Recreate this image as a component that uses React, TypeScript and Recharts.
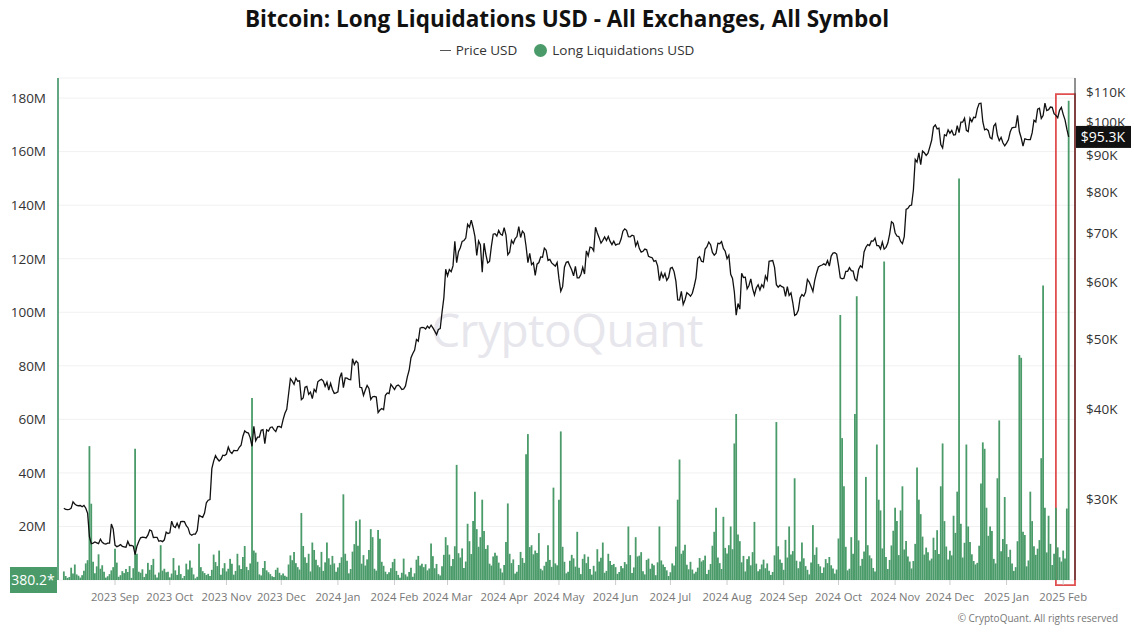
import React from "react";
import {
  ComposedChart,
  Bar,
  Line,
  XAxis,
  YAxis,
  CartesianGrid,
  ReferenceLine,
  ReferenceArea,
} from "recharts";

// daily close (USD) and long liquidations (million USD)
const p2023Aug = [29170, 29050, 29040, 29050, 29180, 29770, 29560, 29430, 29400, 29420, 29300, 29430, 29170, 28700, 26630, 26050, 26100, 26190, 26120, 26050, 26430, 26160, 26060, 26010, 26090, 26100, 27730, 27300, 25930];
const l2023Aug = [3.2, 1.5, 0.8, 1.1, 4.6, 2.4, 5.8, 2.1, 1.6, 0.9, 1.8, 3.5, 6.2, 7.4, 50, 28.5, 6.8, 2.5, 5.1, 9.6, 4.2, 5.5, 3.1, 0.9, 1.4, 2.2, 3.6, 4.8, 11.7];
const p2023Sep = [25800, 25870, 25970, 25830, 25790, 25750, 26240, 25900, 25900, 25840, 25160, 25840, 26230, 26540, 26600, 26570, 26530, 26770, 27210, 27130, 26570, 26580, 26580, 26250, 26300, 26220, 26370, 27020, 26910, 26970];
const l2023Sep = [6.5, 1.2, 1.8, 3.3, 2.6, 4.1, 3.0, 5.2, 0.8, 4.4, 49, 9.8, 3.1, 2.7, 4.0, 1.1, 2.3, 6.4, 3.8, 5.6, 7.9, 2.0, 0.9, 2.8, 13, 3.5, 4.2, 2.9, 3.1, 1.0];
const p2023Oct = [27990, 27530, 27430, 27800, 27410, 27950, 27970, 27940, 27590, 27390, 26870, 26760, 26860, 26860, 27160, 28520, 28420, 28330, 28720, 29680, 29920, 29990, 33090, 33900, 34500, 34150, 33910, 34090, 34540, 34500, 34670];
const l2023Oct = [2.4, 8.2, 3.6, 1.9, 5.4, 2.2, 0.7, 1.5, 6.1, 3.9, 7.3, 4.6, 2.1, 0.6, 1.2, 13.5, 4.8, 3.3, 2.6, 1.9, 2.3, 1.5, 3.8, 9.5, 6.7, 5.2, 11.0, 2.0, 4.4, 6.3, 3.2];
const p2023Nov = [35440, 34940, 34730, 35080, 35050, 35040, 35420, 35650, 36700, 37320, 37140, 37060, 36500, 35540, 37880, 36160, 36590, 36590, 37390, 37480, 35830, 37450, 37310, 37730, 37800, 37480, 37240, 37830, 37850, 37720];
const l2023Nov = [4.2, 7.9, 6.1, 2.0, 3.4, 9.8, 5.5, 4.1, 8.6, 12.7, 4.9, 3.7, 6.2, 68, 11, 10.2, 6.8, 2.1, 1.7, 4.5, 7.1, 3.6, 2.9, 2.2, 1.4, 1.1, 3.8, 4.6, 2.7, 1.8];
const p2023Dec = [38690, 39480, 39980, 41980, 44080, 43750, 43290, 44170, 43730, 43790, 41240, 41450, 42890, 43020, 41930, 42240, 41360, 42620, 42270, 43650, 43860, 43990, 43740, 43010, 43600, 42520, 43440, 42590, 42070, 42140, 42280];
const l2023Dec = [2.4, 1.6, 1.2, 5.8, 9.2, 7.4, 10.5, 6.3, 4.8, 3.9, 25, 12.7, 8.5, 6.4, 9.8, 3.2, 14, 11.2, 7.6, 5.5, 4.8, 10.5, 3.4, 6.6, 14, 8.1, 5.7, 9.0, 6.2, 3.1, 4.7];
const p2024Jan = [44180, 44940, 42850, 44180, 44160, 43970, 43930, 46970, 46110, 46630, 46340, 42890, 42840, 41800, 42510, 43150, 42740, 41260, 41620, 41660, 41580, 39570, 39890, 40080, 39930, 41820, 42120, 42030, 43300, 42950, 42580];
const l2024Jan = [6.4, 8.5, 32, 9.8, 7.2, 2.5, 4.1, 10.6, 13.4, 22, 12.8, 22.6, 6.1, 9.3, 5.4, 7.7, 11.2, 19, 16, 4.2, 3.5, 18.7, 15.4, 6.8, 5.3, 3.1, 2.2, 2.9, 4.4, 6.7, 7.9];
const p2024Feb = [43080, 43190, 42990, 42580, 42660, 43080, 44340, 45290, 47130, 47770, 48290, 49960, 49700, 51800, 51930, 51890, 51650, 52130, 51780, 52280, 51840, 51300, 50730, 51570, 51730, 54480, 57090, 62500, 61200];
const l2024Feb = [3.4, 1.9, 0.8, 2.7, 8.0, 2.1, 1.3, 3.0, 4.6, 1.2, 2.5, 7.6, 9.0, 5.4, 6.1, 4.8, 5.9, 3.6, 4.3, 13.6, 8.9, 4.4, 6.0, 2.2, 1.7, 5.1, 9.4, 16, 13];
const p2024Mar = [62440, 62030, 63170, 68330, 63800, 66110, 66930, 68300, 68500, 69020, 72120, 71480, 73080, 71400, 69400, 65300, 68390, 67550, 61910, 67910, 65490, 63780, 64060, 67210, 69880, 69990, 69450, 70740, 69900, 69650, 71330];
const l2024Mar = [9.5, 5.2, 7.8, 12.6, 43, 10, 8.4, 11.8, 4.5, 6.9, 21, 14.5, 9.7, 22, 33, 19, 12.4, 16, 30, 18.3, 11.6, 13, 6.1, 5.4, 8.8, 10.2, 9.1, 6.5, 4.3, 2.8, 5.6];
const p2024Apr = [69700, 65450, 65980, 68500, 67840, 68900, 69360, 71620, 69150, 70590, 70060, 67200, 63820, 65740, 63430, 63810, 61280, 63510, 63840, 64990, 64940, 66840, 66410, 64280, 64500, 63770, 63460, 63120, 63840, 60640];
const l2024Apr = [14.2, 28.6, 9.8, 6.3, 7.7, 2.4, 3.1, 5.6, 10.5, 8.2, 6.4, 47, 54.5, 12.3, 13, 9.6, 11, 10.1, 17.5, 4.2, 3.6, 5.3, 6.8, 13, 7.5, 4.9, 34.5, 6.2, 5.5, 30];
const p2024May = [58250, 59120, 62890, 63890, 64030, 63160, 62330, 61190, 63050, 60790, 60790, 61450, 62900, 61550, 66270, 65230, 67050, 66940, 66280, 71450, 70140, 69120, 67930, 68530, 69290, 68500, 69390, 68300, 67590, 68360, 67490];
const l2024May = [55.5, 12.4, 6.8, 2.5, 3.1, 7.2, 9.4, 8.1, 5.0, 18, 4.6, 2.2, 7.9, 9.6, 6.3, 8.7, 4.1, 2.0, 5.3, 3.2, 11.5, 6.9, 8.3, 14, 2.7, 3.4, 9.8, 7.1, 5.6, 6.0, 4.8];
const p2024Jun = [67700, 67750, 68800, 70560, 71080, 70760, 69340, 69300, 69650, 69490, 67320, 68240, 66750, 66010, 66190, 66640, 66490, 65140, 64960, 64830, 64100, 64260, 63170, 60280, 61800, 60860, 61670, 60320, 60890, 62680];
const l2024Jun = [2.3, 3.0, 5.2, 4.4, 6.7, 5.9, 20, 9.3, 2.6, 4.7, 16, 8.8, 9.1, 10.4, 3.3, 2.1, 7.5, 8.0, 4.2, 6.1, 5.5, 1.8, 6.6, 20, 7.3, 5.8, 4.9, 3.6, 1.5, 2.9];
const p2024Jul = [62850, 62030, 60170, 56660, 56640, 58230, 55850, 56700, 58000, 57720, 57340, 57890, 59200, 60800, 64700, 65060, 64090, 63970, 66670, 67150, 68160, 67580, 65930, 65370, 65800, 67910, 67810, 68250, 66780, 66190, 64620];
const l2024Jul = [6.2, 5.4, 12.5, 30, 45, 9.8, 11, 13.2, 5.7, 4.0, 6.8, 3.9, 2.4, 3.1, 4.6, 8.2, 6.9, 7.4, 9.1, 2.2, 3.8, 6.0, 12.8, 18, 27, 8.4, 6.3, 4.1, 23.6, 12, 9.9];
const p2024Aug = [65350, 61500, 60680, 58120, 53990, 56030, 55030, 61710, 60880, 60940, 58710, 59350, 60610, 58740, 57560, 58870, 59480, 58480, 59490, 59010, 61160, 60380, 64090, 64180, 64260, 62880, 59500, 59030, 59390, 59120, 58970];
const l2024Aug = [13, 20, 11.5, 51, 62, 17, 14.5, 6.6, 9.0, 3.2, 7.8, 8.9, 5.5, 10.4, 21.7, 6.1, 3.3, 4.0, 5.8, 7.6, 4.4, 6.2, 3.5, 1.9, 3.0, 9.2, 59, 12.6, 7.7, 6.4, 3.8];
const p2024Sep = [57330, 59130, 57480, 57970, 56160, 53950, 54140, 54840, 57020, 57650, 57340, 58130, 60500, 59990, 59130, 58210, 60310, 61760, 62950, 63200, 63350, 63580, 63340, 64260, 63140, 65180, 65790, 65890, 65600, 63330];
const l2024Sep = [15, 8.4, 20, 9.5, 10.8, 38, 7.2, 4.4, 6.9, 14, 8.1, 5.2, 3.8, 2.1, 6.5, 20.5, 9.4, 12.2, 6.0, 5.1, 2.6, 4.7, 7.8, 6.3, 8.6, 5.5, 4.3, 2.4, 3.9, 15.5];
const p2024Oct = [60810, 60630, 60750, 62070, 62090, 62820, 62220, 62130, 60580, 60270, 62440, 63190, 62850, 66050, 67040, 67610, 67400, 68390, 68360, 69000, 67370, 67370, 66680, 68160, 66640, 67010, 67940, 69910, 72720, 72340, 70220];
const l2024Oct = [99, 53, 35, 12.4, 3.6, 4.2, 16, 9.8, 62, 106, 14.8, 5.3, 7.9, 10.6, 38.5, 13, 9.2, 8.1, 4.5, 3.2, 50.6, 30, 26, 11.8, 119, 8.6, 4.1, 7.5, 12.9, 18.4, 27];
const p2024Nov = [69480, 69360, 68300, 67810, 69360, 75640, 75900, 76540, 76680, 80470, 88700, 87960, 90580, 87250, 91070, 90600, 89850, 90460, 92310, 94290, 98320, 98990, 97780, 98010, 93010, 91990, 95960, 95640, 97460, 96450];
const l2024Nov = [22, 9.3, 26, 35, 11.4, 14.6, 8.8, 6.9, 4.3, 7.1, 13.5, 42, 30, 24.6, 16.2, 9.5, 12.1, 10.4, 7.3, 8.0, 15.8, 11.2, 18.6, 9.7, 35, 51, 22, 12.5, 7.7, 10.9];
const p2024Dec = [97280, 95860, 96000, 98770, 96590, 99920, 99920, 101170, 97320, 96930, 101170, 100040, 101460, 101370, 104300, 106030, 106140, 100040, 97490, 97750, 97220, 95100, 94690, 98680, 99430, 95790, 94160, 95160, 93530, 92640, 93430];
const l2024Dec = [9.2, 24, 17.6, 33, 150, 21, 8.4, 13.9, 50.6, 20, 14.2, 9.6, 7.1, 5.8, 6.4, 12.8, 36, 51.4, 49, 27, 16.5, 20, 18.3, 7.9, 6.2, 38, 59.6, 10.7, 15.3, 31, 13.4];
const p2025Jan = [94420, 96890, 98110, 98240, 98310, 102080, 96950, 95040, 92550, 94730, 94560, 94490, 94520, 96530, 100500, 99990, 104080, 104410, 101090, 102020, 106150, 103650, 103960, 104820, 104710, 102620, 102080, 101330, 103730, 104730, 102410];
const l2025Jan = [8.6, 11.3, 6.2, 3.4, 4.8, 14.5, 84, 83, 18, 16.8, 5.1, 7.3, 33, 22, 12.6, 9.4, 11.7, 14.9, 45.5, 110, 27, 10.3, 24, 13.5, 5.6, 9.8, 27, 12.2, 8.5, 6.9, 11];
const p2025Feb = [100650, 97690, 95300];
const l2025Feb = [8, 26.7, 179];

const monthLabels = ["2023 Sep", "2023 Oct", "2023 Nov", "2023 Dec", "2024 Jan", "2024 Feb", "2024 Mar", "2024 Apr", "2024 May", "2024 Jun", "2024 Jul", "2024 Aug", "2024 Sep", "2024 Oct", "2024 Nov", "2024 Dec", "2025 Jan", "2025 Feb"];
const priceTicks = [30000, 40000, 50000, 60000, 70000, 80000, 90000, 100000, 110000];
const liqTicks = [20, 40, 60, 80, 100, 120, 140, 160, 180];
const LIVE_LIQ_USD = 380.2;

const prices = [
  ...p2023Aug, ...p2023Sep, ...p2023Oct, ...p2023Nov, ...p2023Dec,
  ...p2024Jan, ...p2024Feb, ...p2024Mar, ...p2024Apr, ...p2024May, ...p2024Jun,
  ...p2024Jul, ...p2024Aug, ...p2024Sep, ...p2024Oct, ...p2024Nov, ...p2024Dec,
  ...p2025Jan, ...p2025Feb,
];
const liqs = [
  ...l2023Aug, ...l2023Sep, ...l2023Oct, ...l2023Nov, ...l2023Dec,
  ...l2024Jan, ...l2024Feb, ...l2024Mar, ...l2024Apr, ...l2024May, ...l2024Jun,
  ...l2024Jul, ...l2024Aug, ...l2024Sep, ...l2024Oct, ...l2024Nov, ...l2024Dec,
  ...l2025Jan, ...l2025Feb,
];

const DAY = 86400000;
const FIRST_CLOSE = Date.UTC(2023, 7, 4); // close of Aug 3
const X_START = Date.UTC(2023, 6, 31, 19);
const X_END = Date.UTC(2025, 1, 7, 11);
const BOX_START = Date.UTC(2025, 0, 28);

const data = prices.map((p, i) => ({ t: FIRST_CLOSE + i * DAY, price: p, liq: liqs[i] }));

const MONTHS = ["Jan", "Feb", "Mar", "Apr", "May", "Jun", "Jul", "Aug", "Sep", "Oct", "Nov", "Dec"];
const monthTicks = monthLabels.map((l) => {
  const [y, m] = l.split(" ");
  return Date.UTC(Number(y), MONTHS.indexOf(m), 1);
});
const labelOf = new Map(monthTicks.map((t, i) => [t, monthLabels[i]]));

const lastPrice = prices[prices.length - 1];
const FONT = "'Open Sans', 'Noto Sans', sans-serif";
const GREEN = "#4a9b69";

function PriceTag({ viewBox }: any) {
  const { x, y, width } = viewBox;
  const left = x + width + 1;
  return (
    <g>
      <rect x={left} y={y - 11} width={55} height={22} fill="#111" />
      <text x={left + 27} y={y} dy="0.36em" textAnchor="middle" fill="#fff" fontSize={14} fontFamily={FONT}>
        ${(lastPrice / 1000).toFixed(1)}K
      </text>
    </g>
  );
}

function LiveTag({ viewBox }: any) {
  const { x, y } = viewBox;
  return (
    <g>
      <rect x={x - 48} y={y - 13} width={47} height={26} fill={GREEN} />
      <text x={x - 25} y={y} dy="0.36em" textAnchor="middle" fill="#fff" fontSize={14} fontFamily={FONT}>
        {LIVE_LIQ_USD}*
      </text>
    </g>
  );
}

export default function App() {
  return (
    <div style={{ position: "absolute", left: 0, top: 0, width: 1134, height: 632, background: "#fff", overflow: "hidden", fontFamily: FONT }}>
      <div style={{ position: "absolute", top: 3, left: 0, width: 1134, textAlign: "center", fontFamily: FONT, fontWeight: 700, fontSize: 22.5, color: "#111" }}>
        Bitcoin: Long Liquidations USD - All Exchanges, All Symbol
      </div>
      <div style={{ position: "absolute", top: 41, left: 0, width: 1134, display: "flex", justifyContent: "center", alignItems: "center", gap: 17, fontSize: 13.5, color: "#333" }}>
        <span style={{ display: "flex", alignItems: "center", gap: 5 }}>
          <span style={{ width: 11, height: 1, background: "#555", display: "inline-block" }} />
          Price USD
        </span>
        <span style={{ display: "flex", alignItems: "center", gap: 5 }}>
          <span style={{ width: 13, height: 13, borderRadius: "50%", background: GREEN, display: "inline-block" }} />
          Long Liquidations USD
        </span>
      </div>
      <div style={{ position: "absolute", top: 298, left: 0, width: 1134, textAlign: "center", fontSize: 46, color: "#e6e6ec", letterSpacing: -0.5 }}>
        CryptoQuant
      </div>
      <div style={{ position: "absolute", left: 0, top: 0 }}>
        <ComposedChart width={1134} height={632} data={data} margin={{ top: 78, right: 0, bottom: 22, left: 0 }}>
          <CartesianGrid yAxisId="liq" vertical={false} stroke="#f1f1f1" />
          <XAxis
            dataKey="t"
            type="number"
            domain={[X_START, X_END]}
            allowDataOverflow
            ticks={monthTicks}
            interval={0}
            tickFormatter={(v) => labelOf.get(v) ?? ""}
            axisLine={false}
            tickLine={{ stroke: "#ccc" }}
            tickSize={5}
            tickMargin={8}
            height={30}
            tick={{ fontSize: 11.3, fill: "#777", fontFamily: FONT }}
          />
          <YAxis
            yAxisId="liq"
            orientation="left"
            width={58}
            domain={[0, 187.5]}
            allowDataOverflow
            ticks={liqTicks}
            interval={0}
            tickFormatter={(v) => `${v}M`}
            axisLine={{ stroke: "#62a883", strokeWidth: 2 }}
            tickLine={false}
            tickSize={0}
            tickMargin={12}
            tick={{ fontSize: 13.5, fill: "#333", fontFamily: FONT }}
          />
          <YAxis
            yAxisId="price"
            orientation="right"
            width={59}
            scale="log"
            domain={[23200, 115000]}
            allowDataOverflow
            ticks={priceTicks}
            interval={0}
            tickFormatter={(v) => `$${v / 1000}K`}
            axisLine={{ stroke: "#222" }}
            tickLine={false}
            tickSize={0}
            tickMargin={11}
            tick={{ fontSize: 13.5, fill: "#333", fontFamily: FONT }}
          />
          <Bar yAxisId="liq" dataKey="liq" fill={GREEN} barSize={1.8} isAnimationActive={false} />
          <Line yAxisId="price" dataKey="price" type="linear" stroke="#111" strokeWidth={1.3} dot={false} isAnimationActive={false} />
          <ReferenceArea
            yAxisId="liq"
            x1={BOX_START}
            x2={X_END}
            y1={-1.9}
            y2={181.5}
            fill="none"
            stroke="#e05050"
            strokeWidth={1.8}
            ifOverflow="visible"
          />
          <ReferenceLine yAxisId="price" y={lastPrice} stroke="none" label={<PriceTag />} />
          <ReferenceLine yAxisId="liq" y={LIVE_LIQ_USD / 1e6} stroke="none" label={<LiveTag />} />
        </ComposedChart>
      </div>
      <div style={{ position: "absolute", top: 611, right: 16, fontSize: 10, color: "#777" }}>
        © CryptoQuant. All rights reserved
      </div>
    </div>
  );
}
